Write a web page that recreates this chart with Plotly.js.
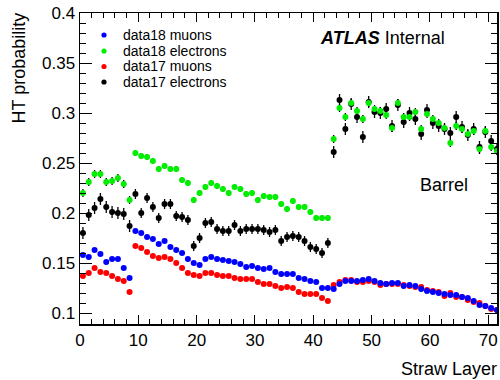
<!DOCTYPE html>
<html>
<head>
<meta charset="utf-8">
<script src="https://cdn.plot.ly/plotly-3.0.1.min.js"></script>
<style>
  html, body { margin: 0; padding: 0; background: #fff; }
  #chart { width: 500px; height: 380px; }
</style>
</head>
<body>
<div id="chart"></div>
<script>
// Straw layer bin centres
const strawLayer = [
  0.5, 1.5, 2.5, 3.5, 4.5, 5.5, 6.5, 7.5, 8.5, 9.5,
  10.5, 11.5, 12.5, 13.5, 14.5, 15.5, 16.5, 17.5, 18.5, 19.5,
  20.5, 21.5, 22.5, 23.5, 24.5, 25.5, 26.5, 27.5, 28.5, 29.5,
  30.5, 31.5, 32.5, 33.5, 34.5, 35.5, 36.5, 37.5, 38.5, 39.5,
  40.5, 41.5, 42.5, 43.5, 44.5, 45.5, 46.5, 47.5, 48.5, 49.5,
  50.5, 51.5, 52.5, 53.5, 54.5, 55.5, 56.5, 57.5, 58.5, 59.5,
  60.5, 61.5, 62.5, 63.5, 64.5, 65.5, 66.5, 67.5, 68.5, 69.5,
  70.5, 71.5
];

const seriesNames = ["data18 muons", "data18 electrons", "data17 muons", "data17 electrons"];

// High-threshold probability per straw layer
const data18Muons = [
  0.158, 0.156, 0.163, 0.159, 0.151, 0.154, 0.154, 0.145, 0.135, 0.182,
  0.180, 0.176, 0.174, 0.169, 0.172, 0.166, 0.163, 0.160, 0.154, 0.150,
  0.148, 0.154, 0.156, 0.154, 0.153, 0.152, 0.151, 0.149, 0.146, 0.147,
  0.145, 0.144, 0.145, 0.141, 0.139, 0.139, 0.139, 0.135, 0.134, 0.132,
  0.131, 0.125, 0.125, 0.124, 0.129, 0.132, 0.132, 0.132, 0.133, 0.134,
  0.132, 0.130, 0.129, 0.130, 0.130, 0.127, 0.128, 0.127, 0.124, 0.122,
  0.121, 0.120, 0.119, 0.118, 0.118, 0.116, 0.115, 0.112, 0.108, 0.107,
  0.105, 0.103
];

const data18Electrons = [
  0.220, 0.231, 0.239, 0.239, 0.231, 0.232, 0.235, 0.229, 0.213, 0.260,
  0.257, 0.256, 0.252, 0.244, 0.247, 0.244, 0.244, 0.233, 0.230, 0.213,
  0.220, 0.226, 0.230, 0.227, 0.224, 0.220, 0.226, 0.224, 0.219, 0.220,
  0.213, 0.217, 0.216, 0.216, 0.209, 0.204, 0.212, 0.206, 0.206, 0.201,
  0.195, 0.195, 0.195, 0.274, 0.305, 0.296, 0.310, 0.302, 0.294, 0.310,
  0.304, 0.302, 0.298, 0.285, 0.310, 0.296, 0.296, 0.301, 0.284, 0.299,
  0.294, 0.290, 0.285, 0.270, 0.287, 0.284, 0.279, 0.282, 0.264, 0.282,
  0.266, 0.262
];
const data18ElectronsErr = [
  0.004, 0.004, 0.004, 0.004, 0.004, 0.004, 0.004, 0.004, 0.004, 0.003,
  0.003, 0.003, 0.003, 0.003, 0.003, 0.003, 0.003, 0.003, 0.003, 0.003,
  0.003, 0.003, 0.003, 0.003, 0.003, 0.003, 0.003, 0.003, 0.003, 0.003,
  0.003, 0.003, 0.003, 0.003, 0.003, 0.003, 0.003, 0.003, 0.003, 0.003,
  0.003, 0.003, 0.003, 0.004, 0.004, 0.004, 0.004, 0.004, 0.004, 0.004,
  0.004, 0.004, 0.004, 0.004, 0.004, 0.004, 0.004, 0.004, 0.004, 0.004,
  0.004, 0.004, 0.004, 0.004, 0.004, 0.004, 0.004, 0.004, 0.005, 0.004,
  0.004, 0.004
];

const data17Muons = [
  0.137, 0.140, 0.145, 0.141, 0.140, 0.137, 0.134, 0.132, 0.121, 0.167,
  0.165, 0.161, 0.157, 0.155, 0.156, 0.154, 0.150, 0.145, 0.140, 0.138,
  0.137, 0.140, 0.140, 0.138, 0.137, 0.137, 0.135, 0.134, 0.134, 0.134,
  0.131, 0.129, 0.129, 0.127, 0.125, 0.126, 0.125, 0.121, 0.119, 0.119,
  0.119, 0.115, 0.112, 0.128, 0.131, 0.133, 0.133, 0.131, 0.131, 0.132,
  0.131, 0.128, 0.129, 0.129, 0.129, 0.128, 0.127, 0.126, 0.126, 0.123,
  0.122, 0.121, 0.117, 0.120, 0.116, 0.116, 0.113, 0.111, 0.110, 0.107,
  0.104, 0.103
];

const data17Electrons = [
  0.180, 0.198, 0.205, 0.214, 0.206, 0.201, 0.200, 0.199, 0.187, 0.219,
  0.200, 0.215, 0.206, 0.195, 0.209, 0.209, 0.197, 0.196, 0.193, 0.167,
  0.175, 0.190, 0.191, 0.184, 0.182, 0.182, 0.188, 0.182, 0.184, 0.184,
  0.184, 0.183, 0.181, 0.183, 0.172, 0.176, 0.177, 0.176, 0.172, 0.166,
  0.164, 0.160, 0.170, 0.261, 0.313, 0.284, 0.309, 0.296, 0.276, 0.311,
  0.301, 0.300, 0.304, 0.287, 0.308, 0.291, 0.300, 0.294, 0.279, 0.303,
  0.290, 0.287, 0.284, 0.280, 0.296, 0.286, 0.278, 0.284, 0.266, 0.281,
  0.272, 0.264
];
const data17ElectronsErr = [
  0.006, 0.006, 0.006, 0.006, 0.006, 0.006, 0.006, 0.006, 0.006, 0.005,
  0.005, 0.005, 0.005, 0.005, 0.005, 0.005, 0.005, 0.005, 0.005, 0.005,
  0.005, 0.005, 0.005, 0.005, 0.005, 0.005, 0.005, 0.005, 0.005, 0.005,
  0.005, 0.005, 0.005, 0.005, 0.005, 0.005, 0.005, 0.005, 0.005, 0.005,
  0.005, 0.005, 0.005, 0.006, 0.006, 0.006, 0.006, 0.006, 0.006, 0.006,
  0.006, 0.006, 0.006, 0.006, 0.006, 0.006, 0.006, 0.006, 0.006, 0.006,
  0.006, 0.006, 0.006, 0.006, 0.006, 0.006, 0.006, 0.006, 0.006, 0.006,
  0.006, 0.006
];

const seriesColors = ["#0000ff", "#00ee00", "#ff0000", "#000000"];

const FONT = "Liberation Sans, Arial, Helvetica, sans-serif";

// Plot frame in pixels (for placing text in paper coordinates)
const W = 500, H = 380;
const M = { l: 80, r: 3, t: 13, b: 56 };
const plotW = W - M.l - M.r, plotH = H - M.t - M.b;
const px = x => (x - M.l) / plotW;
const py = y => (H - M.b - y) / plotH;

function pointTrace(y, color, err) {
  const t = {
    type: "scatter",
    mode: "markers",
    x: strawLayer,
    y: y,
    marker: { color: color, size: 6, line: { width: 0 } },
    showlegend: false,
    cliponaxis: true,
    hoverinfo: "x+y"
  };
  if (err) {
    t.error_y = { type: "data", array: err, visible: true, color: "#000000", thickness: 1.3, width: 0 };
  }
  return t;
}

const traces = [
  pointTrace(data17Muons, seriesColors[2]),
  pointTrace(data17Electrons, seriesColors[3], data17ElectronsErr),
  pointTrace(data18Electrons, seriesColors[1], data18ElectronsErr),
  pointTrace(data18Muons, seriesColors[0])
];

// Legend rows
const legendRowsY = [35, 51, 66.5, 82];
const annotations = [];
const shapes = [];
seriesNames.forEach((name, k) => {
  annotations.push({
    xref: "paper", yref: "paper",
    x: px(121), y: py(legendRowsY[k]),
    xanchor: "left", yanchor: "middle",
    text: name, showarrow: false,
    font: { family: FONT, size: 14, color: "#000" }
  });
  shapes.push({
    type: "circle", xref: "paper", yref: "paper",
    xsizemode: "pixel", ysizemode: "pixel",
    xanchor: px(104), yanchor: py(legendRowsY[k]),
    x0: -2.6, x1: 2.6, y0: -2.6, y1: 2.6,
    fillcolor: seriesColors[k], line: { width: 0 }
  });
});

annotations.push(
  {
    xref: "paper", yref: "paper", x: px(318), y: py(38),
    xanchor: "left", yanchor: "middle", showarrow: false,
    text: "<b><i>ATLAS</i></b> Internal",
    font: { family: FONT, size: 18, color: "#000" }
  },
  {
    xref: "paper", yref: "paper", x: px(418), y: py(185),
    xanchor: "left", yanchor: "middle", showarrow: false,
    text: "Barrel",
    font: { family: FONT, size: 18, color: "#000" }
  },
  {
    xref: "paper", yref: "paper", x: px(499), y: py(369),
    xanchor: "right", yanchor: "middle", showarrow: false,
    text: "Straw Layer",
    font: { family: FONT, size: 18, color: "#000" }
  },
  {
    xref: "paper", yref: "paper", x: px(18), y: py(11),
    xanchor: "center", yanchor: "top", showarrow: false,
    textangle: -90,
    text: "HT probability",
    font: { family: FONT, size: 18, color: "#000" }
  }
);

const axisCommon = {
  showgrid: false, zeroline: false,
  showline: true, linecolor: "#000", linewidth: 1.5,
  mirror: "allticks",
  ticks: "inside", tickcolor: "#000", tickwidth: 1,
  tickfont: { family: FONT, size: 17, color: "#000" }
};

const layout = {
  width: W, height: H,
  margin: M,
  paper_bgcolor: "#fff", plot_bgcolor: "#fff",
  showlegend: false,
  xaxis: Object.assign({}, axisCommon, {
    range: [0, 71.5],
    tick0: 0, dtick: 10, ticklen: 9,
    minor: { dtick: 2, ticklen: 5, ticks: "inside", tickcolor: "#000", tickwidth: 1 }
  }),
  yaxis: Object.assign({}, axisCommon, {
    range: [0.089, 0.4],
    tick0: 0.1, dtick: 0.05, ticklen: 12,
    minor: { dtick: 0.01, ticklen: 6, ticks: "inside", tickcolor: "#000", tickwidth: 1 }
  }),
  annotations: annotations,
  shapes: shapes
};

Plotly.newPlot("chart", traces, layout, { displayModeBar: false, staticPlot: true });
</script>
</body>
</html>
